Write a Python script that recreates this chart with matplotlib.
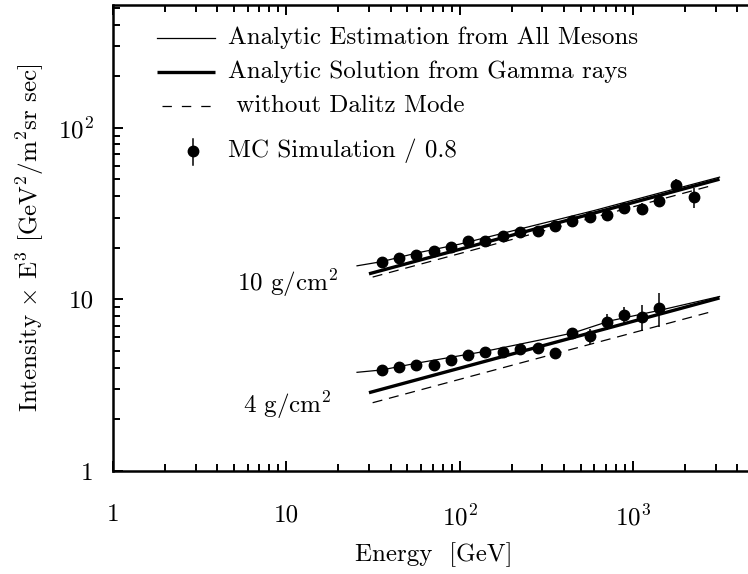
"""Analytic vs MC gamma-ray intensity (E^3 weighted) at two depths."""

import matplotlib
matplotlib.use("Agg")
import matplotlib.pyplot as plt  # noqa: E402
from matplotlib.lines import Line2D  # noqa: E402
from matplotlib.ticker import NullFormatter, LogLocator  # noqa: E402

plt.rcParams["font.family"] = ["cmr10", "DejaVu Serif"]
plt.rcParams["mathtext.fontset"] = "cm"
plt.rcParams["axes.formatter.use_mathtext"] = True

# ---- data ----
# MC points sit at log-spaced bin centres
mc_energy = [35.5, 44.7, 56.2, 70.8, 89.1, 112, 141, 178, 224, 282,
             355, 447, 562, 708, 891, 1122, 1413, 1778, 2239]
mc_10 = [16.6, 17.4, 18.2, 19.2, 20.3, 21.9, 21.9, 23.5, 24.8, 25.1,
         26.8, 28.8, 30.4, 31.2, 34.0, 33.7, 37.5, 46.5, 39.4]
mc_10_err = [0.3, 0.3, 0.3, 0.3, 0.4, 0.4, 0.4, 0.5, 0.5, 0.5,
             0.6, 0.7, 0.8, 1.0, 1.2, 2.7, 3.0, 3.7, 5.5]
mc_4 = [3.88, 4.02, 4.15, 4.13, 4.42, 4.76, 4.96, 4.92, 5.15, 5.22,
        4.90, 6.35, 6.12, 7.42, 8.12, 7.87, 8.88]
mc_4_err = [0.08, 0.08, 0.08, 0.08, 0.1, 0.1, 0.1, 0.1, 0.12, 0.12,
            0.15, 0.3, 0.6, 0.75, 0.9, 1.35, 1.95]

# analytic estimation from all mesons (thin)
est_energy_10 = [25.6, 35.5, 56, 100, 254, 600, 1400, 3162]
est_10 = [15.7, 16.6, 18.6, 21.0, 26.6, 33.0, 41.5, 51.6]
est_energy_4 = [25.6, 35.5, 56.5, 137, 291, 457, 738, 1433, 3162]
est_4 = [3.76, 3.88, 4.25, 4.96, 5.8, 6.4, 7.5, 8.65, 10.4]

# analytic solution from gamma rays (thick) and without Dalitz (dashed)
sol_energy = [30, 3162]
sol_10 = [14.1, 50.2]
sol_4 = [2.86, 10.2]
nodal_energy = [31.5, 2950]
nodal_10 = [13.5, 46.5]
nodal_4 = [2.50, 8.57]

xticks = [1, 10, 100, 1000]
xticklabels = ["1", "10", "$10^2$", "$10^3$"]
yticks = [1, 10, 100]
yticklabels = ["1", "10", "$10^2$"]

legend_labels = ["Analytic Estimation from All Mesons",
                 "Analytic Solution from Gamma rays",
                 " without Dalitz Mode",
                 "MC Simulation / 0.8"]

FS = 18
W, H = 748, 574
fig = plt.figure(figsize=(W / 100, H / 100), dpi=100)
ax = fig.add_axes([113 / W, (H - 471) / H, (754 - 113) / W, 466 / H])
ax.set_xscale("log")
ax.set_yscale("log")
ax.set_xlim(1, 5000)
ax.set_ylim(1, 520)

THIN = dict(color="black", lw=0.9)
THICK = dict(color="black", lw=2.4, solid_capstyle="butt")
DASH = dict(color="black", lw=0.9, dashes=(8, 5.5))
PT = dict(fmt="o", color="black", ms=7.5, elinewidth=1.1, capsize=0)

for est_e, est, sol, nod, mc, err in [
        (est_energy_10, est_10, sol_10, nodal_10, mc_10, mc_10_err),
        (est_energy_4, est_4, sol_4, nodal_4, mc_4, mc_4_err)]:
    ax.plot(est_e, est, **THIN)
    ax.plot(sol_energy, sol, **THICK)
    ax.plot(nodal_energy, nod, **DASH)
    ax.errorbar(mc_energy[:len(mc)], mc, yerr=err, **PT)

ax.text(5.2, 12.5, "10 g/cm$^2$", fontsize=FS, va="center")
ax.text(5.65, 2.43, "4 g/cm$^2$", fontsize=FS, va="center")

ax.set_xticks(xticks, labels=xticklabels)
ax.set_yticks(yticks, labels=yticklabels)
ax.xaxis.set_minor_locator(LogLocator(base=10, subs=range(2, 10), numticks=20))
ax.yaxis.set_minor_locator(LogLocator(base=10, subs=range(2, 10), numticks=20))
ax.xaxis.set_minor_formatter(NullFormatter())
ax.yaxis.set_minor_formatter(NullFormatter())
ax.tick_params(which="both", direction="in", top=True, right=False, width=1.4)
ax.tick_params(which="major", length=7, labelsize=FS)
ax.tick_params(which="minor", length=5)
ax.tick_params(axis="x", which="major", pad=24)
ax.tick_params(axis="y", which="major", pad=14)
for s in ax.spines.values():
    s.set_linewidth(1.8)

ax.set_xlabel("Energy  [GeV]", fontsize=FS, labelpad=9)
ax.set_ylabel(r"Intensity $\times$ E$^3$ [GeV$^2$/m$^2$sr sec]", fontsize=FS,
              labelpad=8)

# hand-placed legend, like the original
rows = [38, 72, 106, 151]
styles = [THIN, THICK, DASH]
for y, lab, st in zip(rows[:3], legend_labels[:3], styles):
    if st is DASH:
        fig.add_artist(Line2D([162 / W, 215 / W], [1 - y / H, 1 - y / H],
                              transform=fig.transFigure, color="black",
                              lw=0.9, dashes=(7.5, 8)))
    else:
        fig.add_artist(Line2D([157 / W, 215 / W], [1 - y / H, 1 - y / H],
                              transform=fig.transFigure, **st))
    fig.text(228 / W, 1 - y / H, lab, fontsize=FS, va="center")
y = rows[3]
fig.add_artist(Line2D([193 / W, 193 / W], [1 - 139 / H, 1 - 165 / H],
                      transform=fig.transFigure, color="black", lw=1.1))
fig.add_artist(Line2D([193 / W], [1 - 151 / H], transform=fig.transFigure,
                      marker="o", color="black", ms=7.5, ls="none"))
fig.text(228 / W, 1 - y / H, legend_labels[3], fontsize=FS, va="center")

fig.savefig("out.png", dpi=100)
